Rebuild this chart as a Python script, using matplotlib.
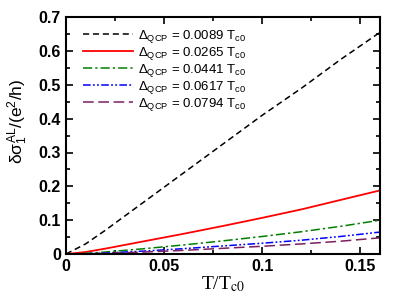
import matplotlib
matplotlib.use('Agg')
import matplotlib.pyplot as plt
from matplotlib.ticker import MultipleLocator, FuncFormatter

# T/Tc0 sample points and read-off curves
T = [0, 0.01, 0.02, 0.04, 0.06, 0.08, 0.1, 0.12, 0.14, 0.16]
s0089 = [0, 0.03, 0.07, 0.155, 0.24, 0.325, 0.41, 0.49, 0.575, 0.655]
s0265 = [0, 0.006, 0.016, 0.038, 0.06, 0.083, 0.107, 0.132, 0.16, 0.188]
s0441 = [0, 0.002, 0.006, 0.016, 0.027, 0.039, 0.052, 0.066, 0.082, 0.1]
s0617 = [0, 0.001, 0.003, 0.009, 0.016, 0.024, 0.032, 0.041, 0.052, 0.065]
s0794 = [0, 0.0008, 0.002, 0.006, 0.011, 0.017, 0.023, 0.030, 0.038, 0.048]
labels = ['0.0089', '0.0265', '0.0441', '0.0617', '0.0794']

plt.rcParams['font.family'] = ['Liberation Sans', 'DejaVu Sans']
plt.rcParams['mathtext.fontset'] = 'custom'
plt.rcParams['mathtext.rm'] = 'Liberation Sans'
plt.rcParams['mathtext.it'] = 'Liberation Sans'

fig = plt.figure(figsize=(3.95, 3.05), dpi=100)
ax = fig.add_axes([0.167, 0.167, 0.795, 0.777])

ax.plot(T, s0089, color='black', ls=(0, (4, 2.5)), lw=1.1)
ax.plot(T, s0265, color='red', ls='-', lw=1.3)
ax.plot(T, s0441, color='green', ls=(0, (6, 2, 1.5, 2)), lw=1.1)
ax.plot(T, s0617, color='blue', ls=(0, (5, 1.5, 1.2, 1.5, 1.2, 1.5)), lw=1.1)
ax.plot(T, s0794, color='#7b1f5f', ls=(0, (7, 3)), lw=1.1)

handles = ax.get_lines()
leg = ax.legend(handles, [r'$\Delta_{\rm QCP}$ = ' + v + r' T$_{\rm c0}$' for v in labels],
                loc='upper left', frameon=False, fontsize=9.5, handlelength=3.8,
                handletextpad=0.4, labelspacing=0.0, bbox_to_anchor=(0.02, 1.0),
                borderaxespad=0.4)

ax.set_xlim(0, 0.16)
ax.set_ylim(0, 0.7)
ax.xaxis.set_major_locator(MultipleLocator(0.05))
ax.xaxis.set_minor_locator(MultipleLocator(0.025))
ax.yaxis.set_major_locator(MultipleLocator(0.1))
ax.yaxis.set_minor_locator(MultipleLocator(0.05))
fmt = FuncFormatter(lambda v, p: '0' if abs(v) < 1e-9 else ('%g' % round(v, 3)))
ax.xaxis.set_major_formatter(fmt)
ax.yaxis.set_major_formatter(fmt)
ax.tick_params(which='both', direction='in', top=True, right=True, width=1.2)
ax.tick_params(which='major', length=5, labelsize=11.5)
ax.tick_params(which='minor', length=3)
for t in ax.get_xticklabels() + ax.get_yticklabels():
    t.set_fontweight('bold')
for s in ax.spines.values():
    s.set_linewidth(1.5)

ax.set_ylabel(r'$\delta\sigma_1^{\rm AL}$/(e$^2$/h)', fontsize=12.5, labelpad=4)
ax.yaxis.set_label_coords(-0.115, 0.56)
ax.set_xlabel(r'T/T$_{\rm c0}$', fontsize=14, family='Liberation Serif', labelpad=0)
ax.xaxis.label.set_math_fontfamily('stix')

fig.savefig('out.png', dpi=100)
